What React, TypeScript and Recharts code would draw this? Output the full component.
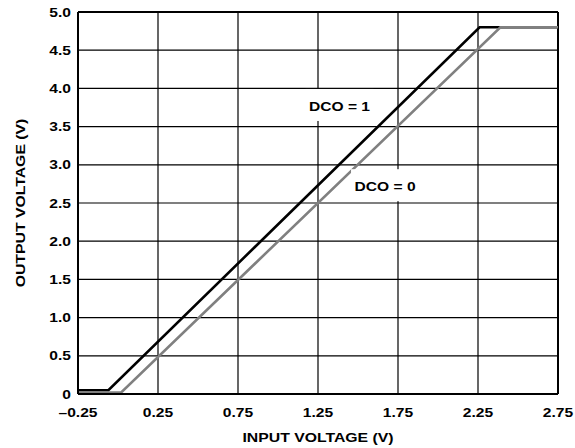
import React from "react";
import {
  LineChart,
  Line,
  XAxis,
  YAxis,
  CartesianGrid,
  ReferenceLine,
  ReferenceDot,
} from "recharts";

// ---- data ----
const xTicks = [-0.25, 0.25, 0.75, 1.25, 1.75, 2.25, 2.75];
const yTicks = [0, 0.5, 1, 1.5, 2, 2.5, 3, 3.5, 4, 4.5, 5];

const dco1X = [-0.25, -0.06, 2.26, 2.75];
const dco1Y = [0.05, 0.05, 4.8, 4.8];

const dco0X = [-0.25, 0.02, 2.39, 2.75];
const dco0Y = [0.02, 0.02, 4.8, 4.8];

const seriesLabels = ["DCO = 1", "DCO = 0"];
const seriesLabelX = [1.384, 1.669];
const seriesLabelY = [3.77, 2.72];

const xTitle = "INPUT VOLTAGE (V)";
const yTitle = "OUTPUT VOLTAGE (V)";

const dco1Data = dco1X.map((x, i) => ({ x, y: dco1Y[i] }));
const dco0Data = dco0X.map((x, i) => ({ x, y: dco0Y[i] }));

// ---- styling ----
const FONT = "'Liberation Sans', Arial, Helvetica, sans-serif";
const SX = 1.2;

const fmtX = (v: number) =>
  v < 0 ? "\u2013" + Math.abs(v).toFixed(2) : v.toFixed(2);
const fmtY = (v: number) => (v === 0 ? "0" : v.toFixed(1));

function XTick(props: any) {
  const { x, y, payload } = props;
  return (
    <text
      transform={`translate(${x},${y + 9.5}) scale(${SX},1)`}
      textAnchor="middle"
      fontFamily={FONT}
      fontWeight="bold"
      fontSize={13}
      fill="#000"
    >
      {fmtX(payload.value)}
    </text>
  );
}

function YTick(props: any) {
  const { x, y, payload } = props;
  return (
    <text
      transform={`translate(${x},${y + 4.6}) scale(${SX},1)`}
      textAnchor="end"
      fontFamily={FONT}
      fontWeight="bold"
      fontSize={13}
      fill="#000"
    >
      {fmtY(payload.value)}
    </text>
  );
}

function XTitle(props: any) {
  const vb = props.viewBox || {};
  const cx = vb.width ? vb.x + vb.width / 2 : 318;
  const by = vb.y !== undefined ? vb.y + 48 : 442;
  return (
    <text
      transform={`translate(${cx},${by}) scale(1.17,1)`}
      textAnchor="middle"
      fontFamily={FONT}
      fontWeight="bold"
      fontSize={13.5}
      fill="#000"
    >
      {xTitle}
    </text>
  );
}

function YTitle(props: any) {
  const vb = props.viewBox || {};
  const cy = vb.height ? vb.y + vb.height / 2 : 203;
  return (
    <text
      transform={`translate(24.5,${cy}) rotate(-90) scale(1.17,1)`}
      textAnchor="middle"
      fontFamily={FONT}
      fontWeight="bold"
      fontSize={13.5}
      fill="#000"
    >
      {yTitle}
    </text>
  );
}

function makeLabelShape(text: string) {
  return (p: any) => {
    const { cx, cy } = p;
    return (
      <g>
        <rect x={cx - 34} y={cy - 17} width={68} height={32} fill="#fff" />
        <text
          transform={`translate(${cx},${cy + 4.6}) scale(${SX},1)`}
          textAnchor="middle"
          fontFamily={FONT}
          fontWeight="bold"
          fontSize={13}
          fill="#000"
        >
          {text}
        </text>
      </g>
    );
  };
}

export default function App() {
  return (
    <div
      style={{
        position: "absolute",
        left: 0,
        top: 0,
        width: 575,
        height: 448,
        background: "#fff",
      }}
    >
      <LineChart
        width={575}
        height={448}
        margin={{ top: 12, right: 17, left: 0, bottom: 0 }}
      >
        <CartesianGrid stroke="#000" strokeWidth={1.2} strokeOpacity={1} />
        <XAxis
          type="number"
          dataKey="x"
          domain={[-0.25, 2.75]}
          ticks={xTicks}
          allowDataOverflow
          height={54}
          tickLine={false}
          tickSize={0}
          tickMargin={13}
          axisLine={{ stroke: "#000", strokeWidth: 2 }}
          tick={<XTick />}
          label={<XTitle />}
        />
        <YAxis
          type="number"
          dataKey="y"
          domain={[0, 5]}
          ticks={yTicks}
          allowDataOverflow
          width={78}
          tickLine={false}
          tickSize={0}
          tickMargin={7}
          axisLine={{ stroke: "#000", strokeWidth: 2 }}
          tick={<YTick />}
          label={<YTitle />}
        />
        <ReferenceLine y={5} stroke="#000" strokeWidth={2} />
        <ReferenceLine x={2.75} stroke="#000" strokeWidth={2} />
        {seriesLabels.map((t, i) => (
          <ReferenceDot
            key={t}
            x={seriesLabelX[i]}
            y={seriesLabelY[i]}
            r={0}
            shape={makeLabelShape(t)}
          />
        ))}
        <Line
          data={dco1Data}
          dataKey="y"
          type="linear"
          stroke="#000"
          strokeWidth={2.6}
          dot={false}
          activeDot={false}
          isAnimationActive={false}
        />
        <Line
          data={dco0Data}
          dataKey="y"
          type="linear"
          stroke="#808080"
          strokeWidth={2.6}
          dot={false}
          activeDot={false}
          isAnimationActive={false}
        />
      </LineChart>
    </div>
  );
}
